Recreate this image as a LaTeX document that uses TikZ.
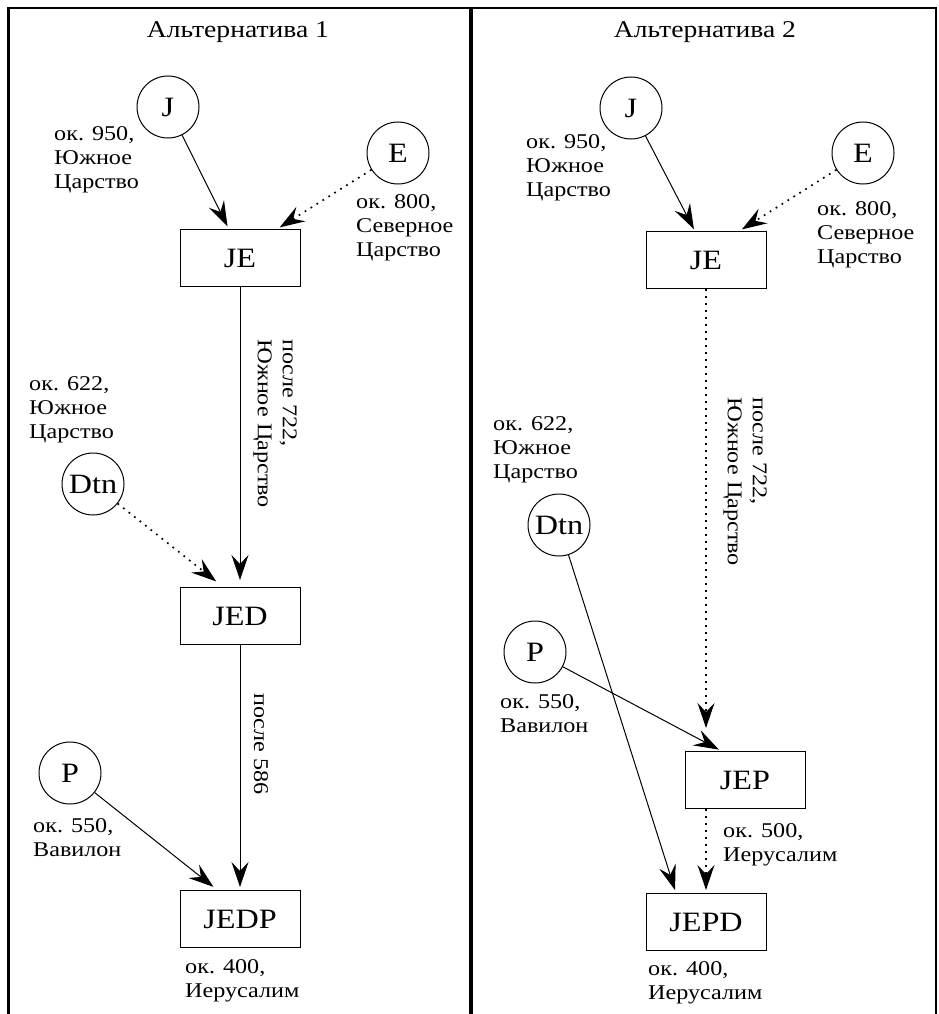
\documentclass[tikz,border=0pt]{standalone}
\usepackage{fontspec}
\setmainfont{Liberation Serif}[FakeStretch=1.15]
\usetikzlibrary{arrows.meta}
\tikzset{
  src/.style={draw, circle, line width=1pt, minimum size=62pt, inner sep=0pt, font=\fontsize{28}{28}\selectfont},
  doc/.style={draw, rectangle, line width=1pt, minimum width=120pt, minimum height=57pt, inner sep=0pt, font=\fontsize{28}{28}\selectfont},
  note/.style={anchor=north west, align=left, inner sep=0pt, font=\fontsize{21}{24}\selectfont},
  turned/.style={rotate=-90, anchor=west, align=left, inner sep=0pt, font=\fontsize{21}{25}\selectfont},
  flow/.style={line width=1pt, -{Stealth[length=25pt,width=17pt,inset=9pt]}, shorten >=3pt},
  flowdot/.style={flow, line width=1.7pt, dash pattern=on 1.7pt off 5.3pt},
}
\begin{document}
\begin{tikzpicture}[x=1pt,y=-1pt]
\useasboundingbox (0,0) rectangle (938,1014);
\draw[line width=2pt] (8,8) -- (936,8);
\draw[line width=3pt] (8,7) -- (8,1014);
\draw[line width=4pt] (471,7) -- (471,1014);
\draw[line width=2pt] (936,7) -- (936,1014);
\foreach \x/\n in {238/1, 705/2} {
  \node[font=\fontsize{24}{24}\selectfont] (alt\n) at (\x,32) {Альтернатива \n};
}
\node[src] (J1) at (168,107) {J};
\node[src] (E1) at (398,153) {E};
\node[doc] (JE1) at (240,258) {JE};
\node[src] (Dtn1) at (93,484) {Dtn};
\node[doc] (JED1) at (240,616) {JED};
\node[src] (P1) at (70,773) {P};
\node[doc] (JEDP1) at (240,919) {JEDP};
\node[note] (j1note) at (54,126) {ок. 950,\\Южное\\Царство};
\node[note] (e1note) at (356,194) {ок. 800,\\Северное\\Царство};
\node[note] (dtn1note) at (29,376) {ок. 622,\\Южное\\Царство};
\node[note] (p1note) at (33,818) {ок. 550,\\Вавилон};
\node[note] (jedp1note) at (185,959) {ок. 400,\\Иерусалим};
\node[turned] (je1note) at (275,339) {после 722,\\Южное Царство};
\node[turned] (jed1note) at (261,693) {после 586};
\draw[flow] (J1) -- (JE1.111);
\draw[flowdot] (E1) -- (JE1.38);
\draw[flow, shorten >=7pt] (JE1) -- (JED1);
\draw[flowdot, shorten >=9pt] (Dtn1) -- (JED1.120);
\draw[flow] (JED1) -- (JEDP1);
\draw[flow, shorten >=5pt] (P1) -- (JEDP1.128);
\node[src] (J2) at (631,108) {J};
\node[src] (E2) at (863,153) {E};
\node[doc] (JE2) at (706,260) {JE};
\node[src] (Dtn2) at (559,525) {Dtn};
\node[src] (P2) at (535,652) {P};
\node[doc] (JEP2) at (745,780) {JEP};
\node[doc] (JEPD2) at (706,922) {JEPD};
\node[note] (j2note) at (526,134) {ок. 950,\\Южное\\Царство};
\node[note] (e2note) at (817,201) {ок. 800,\\Северное\\Царство};
\node[note] (dtn2note) at (493,416) {ок. 622,\\Южное\\Царство};
\node[note] (p2note) at (500,694) {ок. 550,\\Вавилон};
\node[note] (jep2note) at (723,823) {ок. 500,\\Иерусалим};
\node[note] (jepd2note) at (648,961) {ок. 400,\\Иерусалим};
\node[turned] (je2note) at (745,397) {после 722,\\Южное Царство};
\draw[flow, shorten >=2pt] (J2) -- (JE2.111);
\draw[flowdot] (E2) -- (JE2.41);
\draw[flowdot, shorten >=23pt] (JE2) -- (JE2 |- JEP2.north);
\draw[flow] (Dtn2) -- (JEPD2.136);
\draw[flow] (P2) -- (JEP2.129);
\draw[flowdot] (JEP2.south -| JEPD2) -- (JEPD2);
\end{tikzpicture}
\end{document}
